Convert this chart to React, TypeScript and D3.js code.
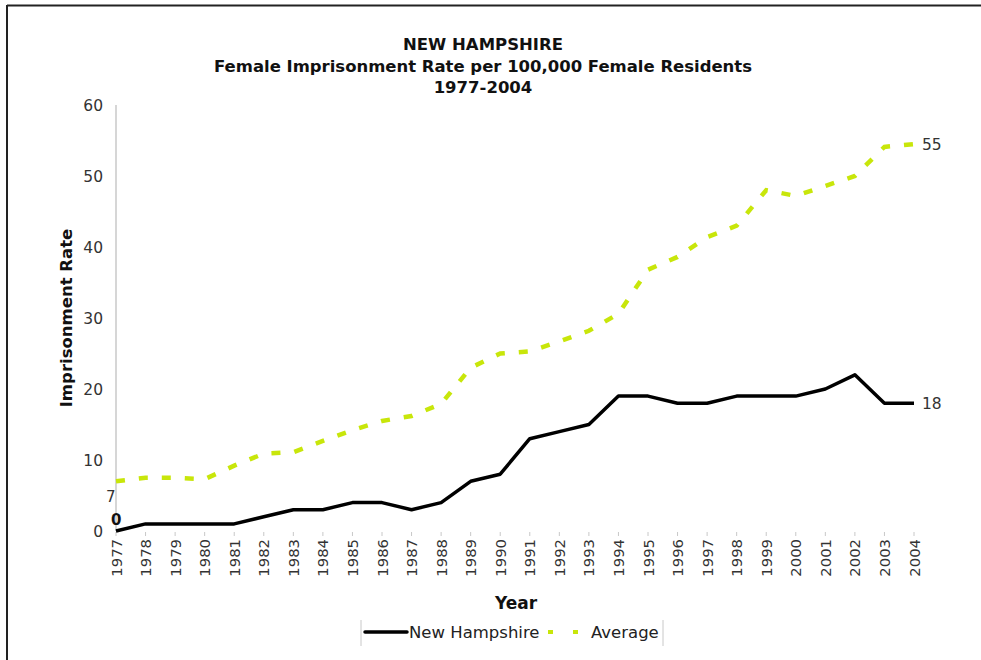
import React from 'react';
import * as d3 from 'd3';

const years = [1977, 1978, 1979, 1980, 1981, 1982, 1983, 1984, 1985, 1986, 1987, 1988, 1989, 1990,
    1991, 1992, 1993, 1994, 1995, 1996, 1997, 1998, 1999, 2000, 2001, 2002, 2003, 2004];
const newHampshire = [0, 1, 1, 1, 1, 2, 3, 3, 4, 4, 3, 4, 7, 8,
    13, 14, 15, 19, 19, 18, 18, 19, 19, 19, 20, 22, 18, 18];
const average = [7.0, 7.5, 7.5, 7.3, 9.2, 10.9, 11.1, 12.7, 14.2, 15.5, 16.2, 17.9, 23.0, 25.0,
    25.3, 26.7, 28.2, 30.6, 36.8, 38.6, 41.4, 43.0, 48.0, 47.2, 48.6, 50.0, 54.1, 54.5];
const yTicks = [0, 10, 20, 30, 40, 50, 60];
const titleLines = ['NEW HAMPSHIRE', 'Female Imprisonment Rate per 100,000 Female Residents', '1977-2004'];

const font = 'Verdana, "DejaVu Sans", sans-serif';
const green = '#c8e60a';

const App = () => {
    const width = 981, height = 660;
    const margin = { top: 105, left: 116, right: 67, bottom: 129 };

    const x = d3.scaleLinear()
        .domain([years[0], years[years.length - 1]])
        .range([margin.left, width - margin.right]);
    const y = d3.scaleLinear()
        .domain([0, 60])
        .range([height - margin.bottom, margin.top]);

    const line = d3.line<number>()
        .x((d, i) => x(years[i]))
        .y(d => y(d));

    const last = years.length - 1;

    return (
        <svg width={width} height={height} style={{ position: 'absolute', left: 0, top: 0, background: '#fff' }}>
            {/* frame */}
            <line x1={7} x2={width} y1={5.5} y2={5.5} stroke="#222" strokeWidth={2} />
            <line x1={7} x2={7} y1={5} y2={height} stroke="#222" strokeWidth={2} />

            {titleLines.map((t, i) => (
                <text key={i} x={483} y={50 + i * 21.5} textAnchor="middle" fontFamily={font}
                    fontWeight="bold" fontSize={16.5} fill="#111"
                    textLength={i === 1 ? 538 : undefined} lengthAdjust="spacingAndGlyphs">{t}</text>
            ))}

            {/* y axis */}
            <line x1={x(years[0])} x2={x(years[0])} y1={y(60)} y2={y(0)} stroke="#c8c8c8" strokeWidth={1.5} />
            {yTicks.map(t => (
                <text key={t} x={103} y={y(t) + 5.5} textAnchor="end" fontFamily={font}
                    fontSize={15.5} fill="#333">{t}</text>
            ))}

            {/* x ticks */}
            {years.map(yr => (
                <g key={yr}>
                    <line x1={x(yr)} x2={x(yr)} y1={y(0) + 1} y2={y(0) + 5} stroke="#c8c8c8" strokeWidth={1} />
                    <text transform={`translate(${x(yr) + 5.5},${y(0) + 8}) rotate(-90)`} textAnchor="end"
                        fontFamily={font} fontSize={14.8} fill="#333">{yr}</text>
                </g>
            ))}

            <text x={516} y={609} textAnchor="middle" fontFamily={font} fontWeight="bold" fontSize={17} fill="#111">Year</text>
            <text transform={`translate(72,${(y(0) + y(60)) / 2}) rotate(-90)`} textAnchor="middle"
                fontFamily={font} fontWeight="bold" fontSize={16.5} fill="#111">Imprisonment Rate</text>

            {/* series */}
            <path d={line(average) || ''} fill="none" stroke={green} strokeWidth={4.5} strokeDasharray="9,14" />
            <path d={line(newHampshire) || ''} fill="none" stroke="#000" strokeWidth={3.5} strokeLinejoin="round" />

            {/* data labels */}
            <text x={x(years[0]) - 5} y={y(newHampshire[0]) - 6} fontFamily={font} fontWeight="bold"
                fontSize={15} fill="#111">{newHampshire[0]}</text>
            <text x={x(years[0]) - 10} y={y(average[0]) + 21} fontFamily={font}
                fontSize={15} fill="#333">{Math.round(average[0])}</text>
            <text x={x(years[last]) + 8} y={y(average[last]) + 6} fontFamily={font}
                fontSize={15.5} fill="#333">{Math.round(average[last])}</text>
            <text x={x(years[last]) + 8} y={y(newHampshire[last]) + 6} fontFamily={font}
                fontSize={15.5} fill="#333">{newHampshire[last]}</text>

            {/* legend */}
            <line x1={361} x2={361} y1={620} y2={646} stroke="#c8c8c8" strokeWidth={1} />
            <line x1={663} x2={663} y1={620} y2={646} stroke="#c8c8c8" strokeWidth={1} />
            <line x1={365} x2={407} y1={632} y2={632} stroke="#000" strokeWidth={3.5} strokeLinecap="round" />
            <text x={409} y={638} fontFamily={font} fontSize={16.5} fill="#222">New Hampshire</text>
            <line x1={548} x2={578} y1={632} y2={632} stroke={green} strokeWidth={4} strokeDasharray="5,20" />
            <text x={591} y={638} fontFamily={font} fontSize={16.5} fill="#222">Average</text>
        </svg>
    );
};

export default App;
